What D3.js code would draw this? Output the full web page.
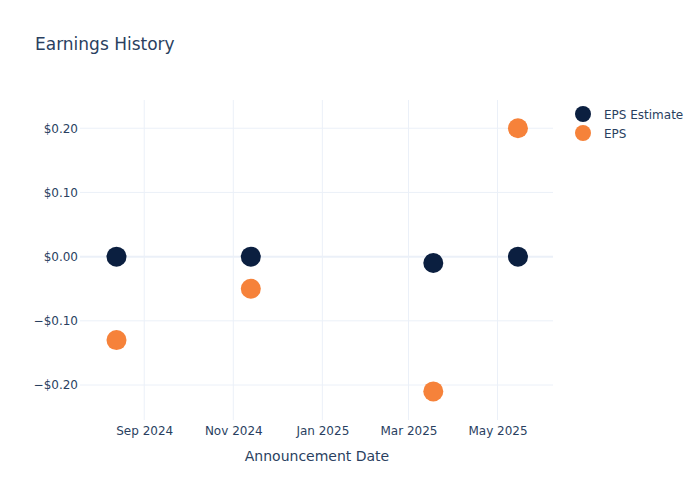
<!DOCTYPE html>
<html lang="en">
<head>
<meta charset="UTF-8" />
<title>Earnings History</title>
<script src="https://d3js.org/d3.v7.min.js"></script>
<style>
  body { margin: 0; background: #fff; }
  svg text { font-family: "DejaVu Sans", Verdana, sans-serif; fill: #2a3f5f; }
</style>
</head>
<body>
<svg id="chart" width="700" height="500"></svg>
<script>
const dates = ["2024-08-13", "2024-11-13", "2025-03-18", "2025-05-15"];
const epsEstimate = [0.0, 0.0, -0.01, 0.0];
const eps = [-0.13, -0.05, -0.21, 0.20];
const yTicks = [-0.2, -0.1, 0, 0.1, 0.2];
const xTicks = ["2024-09-01", "2024-11-01", "2025-01-01", "2025-03-01", "2025-05-01"];
const seriesNames = ["EPS Estimate", "EPS"];
const colors = ["#0b1f40", "#f6823a"];

const parse = d3.timeParse("%Y-%m-%d");
const svg = d3.select("#chart");
const margin = { top: 100, right: 147, bottom: 80, left: 80 };
const width = 700 - margin.left - margin.right;
const height = 500 - margin.top - margin.bottom;

const x = d3.scaleTime()
  .domain([parse("2024-07-19"), parse("2025-06-08")])
  .range([0, width]);
const y = d3.scaleLinear().domain([-0.2545, 0.244]).range([height, 0]);

const g = svg.append("g").attr("transform", `translate(${margin.left},${margin.top})`);

// grid
g.selectAll(".vgrid").data(xTicks).enter().append("line")
  .attr("x1", d => x(parse(d))).attr("x2", d => x(parse(d)))
  .attr("y1", 0).attr("y2", height)
  .attr("stroke", "#ebf0f8").attr("stroke-width", 1);
g.selectAll(".hgrid").data(yTicks).enter().append("line")
  .attr("x1", 0).attr("x2", width)
  .attr("y1", d => y(d)).attr("y2", d => y(d))
  .attr("stroke", "#ebf0f8").attr("stroke-width", d => d === 0 ? 2 : 1);

// axes
const fmtY = d => (d < 0 ? "\u2212" : "") + "$" + Math.abs(d).toFixed(2);
const yAxis = g.append("g")
  .call(d3.axisLeft(y).tickValues(yTicks).tickFormat(fmtY).tickSize(0).tickPadding(2));
yAxis.select(".domain").remove();
yAxis.selectAll("text").style("font-size", "12px").attr("fill", "#2a3f5f");

const xAxis = g.append("g").attr("transform", `translate(0,${height})`)
  .call(d3.axisBottom(x).tickValues(xTicks.map(parse)).tickFormat(d3.timeFormat("%b %Y")).tickSize(0).tickPadding(6));
xAxis.select(".domain").remove();
xAxis.selectAll("text").style("font-size", "12px").attr("fill", "#2a3f5f");

g.append("text")
  .attr("x", width / 2 + 0.5).attr("y", height + 41)
  .attr("text-anchor", "middle")
  .style("font-size", "14px")
  .text("Announcement Date");

svg.append("text")
  .attr("x", 35).attr("y", 50)
  .style("font-size", "17px")
  .text("Earnings History");

// points
[epsEstimate, eps].forEach((vals, i) => {
  g.selectAll(".s" + i).data(vals).enter().append("circle")
    .attr("cx", (d, j) => x(parse(dates[j])))
    .attr("cy", d => y(d))
    .attr("r", 10)
    .attr("fill", colors[i]);
});

// legend
const legend = svg.append("g").attr("transform", "translate(583,114)");
seriesNames.forEach((name, i) => {
  const row = legend.append("g").attr("transform", `translate(0,${i * 19})`);
  row.append("circle").attr("r", 8).attr("fill", colors[i]);
  row.append("text").attr("x", 21).attr("y", 4.5).style("font-size", "12px").text(name);
});
</script>
</body>
</html>
